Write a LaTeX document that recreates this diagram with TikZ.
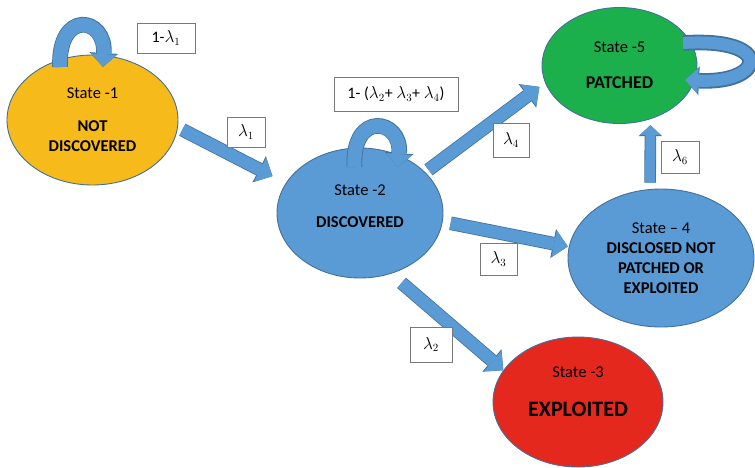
\documentclass[tikz,border=0pt]{standalone}
\usepackage{fontspec}
\setmainfont{Carlito}
\usetikzlibrary{shapes.geometric,arrows.meta,calc}

\definecolor{undisc}{RGB}{246,186,26}
\definecolor{stateblue}{RGB}{91,155,213}
\definecolor{patchgreen}{RGB}{28,176,76}
\definecolor{exploitred}{RGB}{229,40,30}
\definecolor{rim}{RGB}{65,113,156}
\definecolor{boxgray}{RGB}{120,120,120}

\tikzset{
  state/.style={ellipse, draw=rim, line width=0.9pt, inner sep=0pt, align=center,
    font=\fontsize{16.5}{20}\selectfont},
  rate/.style={draw=boxgray, fill=white, line width=1pt, inner sep=0pt,
    minimum height=30pt, font=\fontsize{16}{19}\selectfont},
  flow/.style={line width=12pt, draw=stateblue,
    -{Triangle[width=27pt,length=14pt,line width=0pt]},
    preaction={draw=rim, line width=13.6pt,
      -{Triangle[width=29.5pt,length=15pt,line width=0pt]}}},
  upflow/.style={line width=10pt, draw=stateblue,
    -{Triangle[width=21pt,length=10pt,line width=0pt]},
    preaction={draw=rim, line width=11.6pt,
      -{Triangle[width=23.5pt,length=11pt,line width=0pt]}}},
  selfloop/.style={line width=14pt, draw=stateblue,
    -{Triangle[width=26pt,length=13pt,line width=0pt]},
    preaction={draw=rim, line width=15.6pt,
      -{Triangle[width=28.5pt,length=14pt,line width=0pt]}}},
}

\begin{document}
\begin{tikzpicture}[x=1pt, y=-1pt]
    \fill[white] (0,0) rectangle (755,467);
    \useasboundingbox (0,0) rectangle (755,467);

    % States
    \node[state, fill=undisc, minimum width=171pt, minimum height=130pt] (st1) at (92.5,120)
        {State -1\\[13pt]\textbf{NOT}\\\textbf{DISCOVERED}};
    \node[state, fill=stateblue, minimum width=166pt, minimum height=130pt] (st2) at (360,213)
        {State -2\\[12pt]\textbf{DISCOVERED}\\[-6pt]\mbox{}};
    \node[state, fill=patchgreen, minimum width=155pt, minimum height=116pt] (st5) at (619.5,65.5)
        {State -5\\[16pt]{\fontsize{18}{22}\selectfont\textbf{PATCHED}}};
    \node[state, fill=stateblue, minimum width=186pt, minimum height=138pt] (st4) at (661,258)
        {\fontsize{16.5}{22}\selectfont State -- 4\\\textbf{DISCLOSED NOT}\\\textbf{PATCHED OR}\\\textbf{EXPLOITED}};
    \node[state, fill=exploitred, minimum width=170pt, minimum height=130pt] (st3) at (578,402)
        {State -3\\[19pt]{\fontsize{22}{26}\selectfont\textbf{EXPLOITED}}\\[1pt]\mbox{}};

    % Transitions
    \draw[flow, shorten <=5pt, shorten >=15pt] (st1.-5) -- (st2.158);
    \draw[flow, shorten <=4pt, shorten >=7pt] (st2.32) -- (st5.193);
    \draw[flow, shorten <=8pt, shorten >=1pt] (st2.-6) -- (st4.173);
    \draw[flow, shorten <=14pt] (st2.-63) -- (st3.157);
    \draw[upflow, shorten <=6.5pt, shorten >=6pt] (st4.99) -- (st5.-60);

    % Self loops (the tip pulls the last control point back, so it is set lower)
    \draw[selfloop] ($(st1)+(-32.5,-53)$) .. controls +(-2,-58) and +(3,-50) .. ($(st1)+(10.5,-53)$);
    \draw[selfloop] ($(st2)+(-5.5,-46)$) .. controls +(-3,-57) and +(4,-48) .. ($(st2)+(38,-46)$);
    \draw[selfloop, line width=12pt, preaction={line width=13.6pt}]
        ($(st5)+(63.5,-22.5)$) .. controls +(92,-6) and +(80,4) .. ($(st5)+(65.5,14.5)$);

    % Rates
    \node[rate, minimum width=58pt] (lam11) at (166,38) {1-$\lambda_1$};
    \node[rate, minimum width=38pt] (lam1) at (246,132) {$\lambda_1$};
    \node[rate, minimum width=124pt, minimum height=34pt] (lam22) at (396,94)
        {1- ($\lambda_2$+ $\lambda_3$+ $\lambda_4$)};
    \node[rate, minimum width=36pt, minimum height=34pt] (lam4) at (511,140) {$\lambda_4$};
    \node[rate, minimum width=38pt, minimum height=32pt] (lam6) at (680,157) {$\lambda_6$};
    \node[rate, minimum width=37pt, minimum height=32pt] (lam3) at (498.5,259) {$\lambda_3$};
    \node[rate, minimum width=42pt, minimum height=35pt] (lam2) at (431,344.5) {$\lambda_2$};
\end{tikzpicture}
\end{document}
